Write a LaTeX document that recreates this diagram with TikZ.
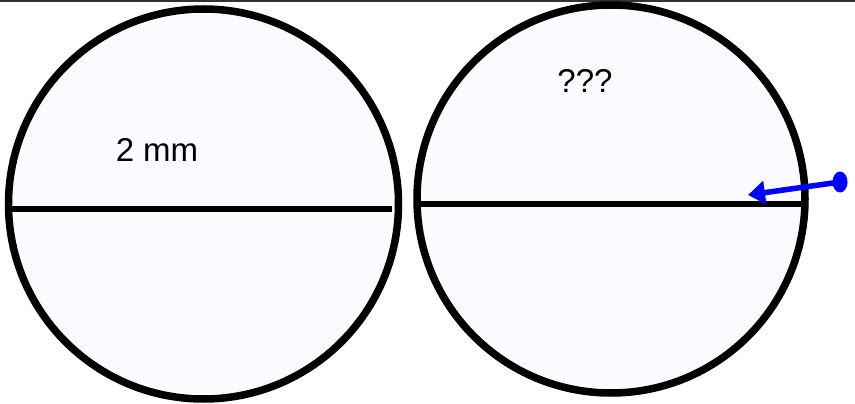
\documentclass[tikz,border=0pt]{standalone}
\usepackage{fontspec}
\setmainfont{Liberation Sans}
\usetikzlibrary{arrows.meta, shapes.geometric}
\definecolor{paleblue}{RGB}{250,251,255}

\begin{document}
\begin{tikzpicture}[
  x=1pt, y=-1pt,
  disc/.style={circle, draw, fill=paleblue, line width=7.5pt, inner sep=0pt, minimum size=#1},
  bar/.style={line width=6pt},
  label/.style={font=\fontsize{33}{40}\selectfont, inner sep=0pt},
  arrow/.style={-{Triangle[length=17pt, width=23pt]}, blue, line width=5.5pt}
]
\useasboundingbox (0,0) rectangle (855,404);
\draw[line width=2pt, black!80] (0,1) -- (855,1);

\node[disc=390pt] (left) at (203.5,204) {};
\node[disc=388pt] (right) at (611,199) {};

\coordinate (la) at (9,209);
\coordinate (lb) at (392,209);
\coordinate (ra) at (418,204);
\coordinate (rb) at (801,204);
\draw[bar] (la) -- (lb);
\draw[bar] (ra) -- (rb);

\node[label] (size) at (157,150) {2 mm};
\node[label] (unknown) at (585,81) {???};

\node[ellipse, fill=blue, inner sep=0pt, minimum width=15pt, minimum height=21pt] (pin) at (840,182) {};
\coordinate (tip) at (748,195);
\draw[arrow] (pin.center) -- (tip);
\end{tikzpicture}
\end{document}
